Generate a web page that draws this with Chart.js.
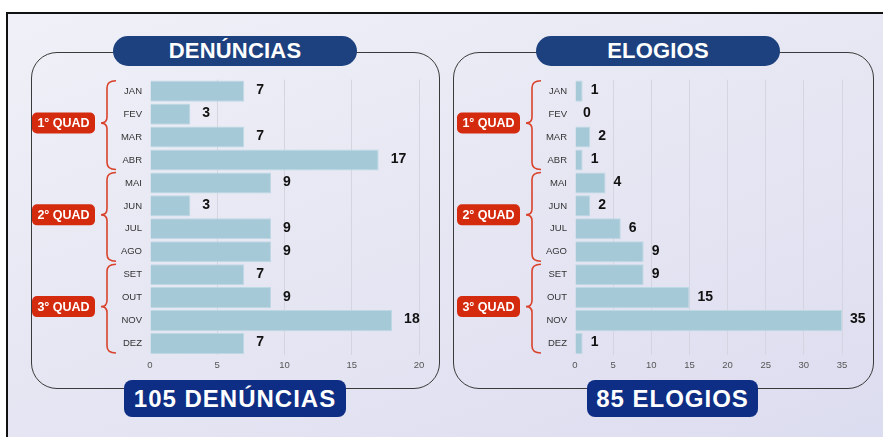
<!DOCTYPE html>
<html>
<head>
<meta charset="utf-8">
<script src="https://cdn.jsdelivr.net/npm/chart.js@4.4.1/dist/chart.umd.min.js"></script>
<style>
    body { margin: 0; width: 883px; height: 437px; overflow: hidden; background: #fff; font-family: "Liberation Sans", Arial, sans-serif; }
    .frame { position: absolute; left: 6px; top: 12px; width: 890px; height: 440px; border-top: 2px solid #111; border-left: 2px solid #111; background: linear-gradient(160deg, #f0f0f8 0%, #e6e6f3 50%, #dcdcf0 100%); }
    .panel { position: absolute; top: 52px; height: 335px; border: 1.5px solid #3a3a3a; border-radius: 26px; }
    .title { position: absolute; top: 36px; height: 30px; width: 244px; border-radius: 15px; background: #1d417e; color: #fff; font-weight: bold; font-size: 22px; line-height: 30px; text-align: center; letter-spacing: 0.2px; }
    .total { position: absolute; top: 380px; height: 37px; border-radius: 8px; background: #0e2d84; color: #fff; font-weight: bold; font-size: 24px; line-height: 38px; text-align: center; letter-spacing: 1px; }
    canvas { position: absolute; }
</style>
</head>
<body>
<div class="frame"></div>

<div class="panel" style="left:31px; width:407px;"></div>
<div class="panel" style="left:453px; width:419px;"></div>

<div class="title" style="left:113px;">DENÚNCIAS</div>
<div class="title" style="left:536px;">ELOGIOS</div>

<div style="position:absolute; left:20px; top:66px; width:420px; height:309px;"><canvas id="denunciasChart"></canvas></div>
<div style="position:absolute; left:445px; top:66px; width:430px; height:309px;"><canvas id="elogiosChart"></canvas></div>

<div class="total" style="left:124px; width:222px;">105 DENÚNCIAS</div>
<div class="total" style="left:587px; width:171px;">85 ELOGIOS</div>

<script>
const meses = ['JAN', 'FEV', 'MAR', 'ABR', 'MAI', 'JUN', 'JUL', 'AGO', 'SET', 'OUT', 'NOV', 'DEZ'];
const quadrimestres = ['1° QUAD', '2° QUAD', '3° QUAD'];
const denuncias = [7, 3, 7, 17, 9, 3, 9, 9, 7, 9, 18, 7];
const elogios = [1, 0, 2, 1, 4, 2, 6, 9, 9, 15, 35, 1];
const ticksDenuncias = [0, 5, 10, 15, 20];
const ticksElogios = [0, 5, 10, 15, 20, 25, 30, 35];

const FONT = '"Liberation Sans", Arial, sans-serif';

// chaves vermelhas + etiqueta do quadrimestre, à esquerda dos meses
const quadPlugin = {
    id: 'quadPlugin',
    afterDraw(chart) {
        const c = chart.ctx;
        const y = chart.scales.y;
        const left = chart.chartArea.left;
        const bx = left - 43;

        quadrimestres.forEach(function (label, g) {
            const top = y.getPixelForValue(g * 4 - 0.5) + 1;
            const bottom = y.getPixelForValue(g * 4 + 3.5) - 2;
            const mid = (top + bottom) / 2 - 2;

            c.save();
            c.strokeStyle = '#d9432b';
            c.lineWidth = 1.6;
            c.beginPath();
            c.moveTo(bx + 9, top);
            c.quadraticCurveTo(bx, top, bx, top + 7);
            c.lineTo(bx, mid - 6);
            c.quadraticCurveTo(bx, mid, bx - 6, mid);
            c.quadraticCurveTo(bx, mid, bx, mid + 6);
            c.lineTo(bx, bottom - 7);
            c.quadraticCurveTo(bx, bottom, bx + 9, bottom);
            c.stroke();

            // etiqueta
            const w = 63, h = 21, x0 = left - 118;
            c.fillStyle = '#d42a0e';
            c.beginPath();
            c.roundRect(x0, mid - h / 2, w, h, 5);
            c.fill();
            c.fillStyle = '#fff';
            c.font = 'bold 12.5px ' + FONT;
            c.textAlign = 'center';
            c.textBaseline = 'middle';
            c.fillText(label, x0 + w / 2, mid + 0.5);
            c.restore();
        });
    }
};

// valor no fim de cada barra
const valorPlugin = {
    id: 'valorPlugin',
    afterDatasetsDraw(chart, args, opts) {
        const c = chart.ctx;
        const meta = chart.getDatasetMeta(0);
        const data = chart.data.datasets[0].data;
        c.save();
        c.fillStyle = '#111';
        c.font = 'bold 14px ' + FONT;
        c.textAlign = 'left';
        c.textBaseline = 'middle';
        meta.data.forEach(function (bar, i) {
            c.fillText(data[i], bar.x + opts.offset, bar.y - 1);
        });
        c.restore();
    }
};

function barChart(id, valores, ticks, padRight, offset) {
    const ctx = document.getElementById(id).getContext('2d');
    return new Chart(ctx, {
        type: 'bar',
        data: {
            labels: meses,
            datasets: [{
                data: valores,
                backgroundColor: '#a6c9d7',
                borderColor: '#bdd9e4',
                borderWidth: 1,
                barPercentage: 0.92,
                categoryPercentage: 1
            }]
        },
        options: {
            indexAxis: 'y',
            responsive: true,
            maintainAspectRatio: false,
            animation: false,
            layout: { padding: { top: 4, right: padRight, bottom: 0, left: 0 } },
            plugins: {
                legend: { display: false },
                tooltip: { enabled: false },
                valorPlugin: { offset: offset }
            },
            scales: {
                x: {
                    min: 0,
                    max: ticks[ticks.length - 1],
                    afterBuildTicks: function (scale) {
                        scale.ticks = ticks.map(function (v) { return { value: v }; });
                    },
                    afterFit: function (scale) { scale.height = 20; },
                    border: { display: false },
                    grid: {
                        drawTicks: false,
                        color: function (c) { return c.index === 0 ? 'rgba(0,0,0,0)' : '#d5d5e2'; }
                    },
                    ticks: { padding: 5, color: '#555', font: { family: FONT, size: 9.5 } }
                },
                y: {
                    afterFit: function (scale) { scale.width = 130; },
                    border: { display: false },
                    grid: { display: false, drawTicks: false },
                    ticks: { padding: 8, color: '#333', font: { family: FONT, size: 9.5 } }
                }
            }
        },
        plugins: [quadPlugin, valorPlugin]
    });
}

barChart('denunciasChart', denuncias, ticksDenuncias, 21, 12);
barChart('elogiosChart', elogios, ticksElogios, 33, 8);
</script>
</body>
</html>
